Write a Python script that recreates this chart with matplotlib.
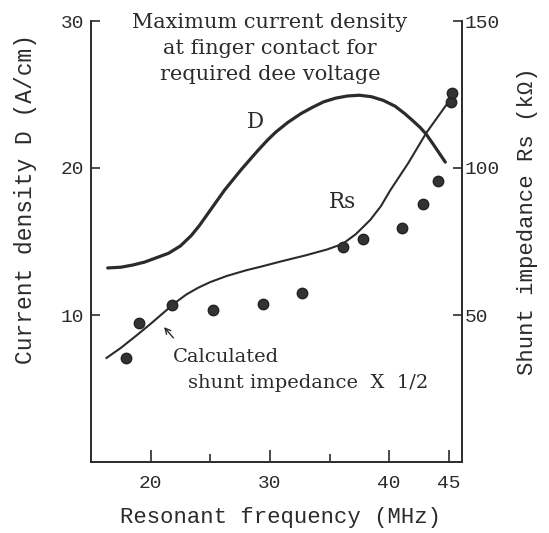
import matplotlib
matplotlib.use("Agg")
import matplotlib.pyplot as plt

# D curve (left axis, A/cm)
d_freq = [16.4, 17.5, 18.5, 19.5, 20.5, 21.5, 22.5, 23.4, 24.1, 24.8, 25.5, 26.2, 27.0, 27.6, 28.3,
          29.0, 29.8, 30.5, 31.5, 32.6, 33.5, 34.5, 35.5, 36.5, 37.5, 38.5, 39.5, 40.5, 41.3, 42.0,
          42.6, 43.1, 43.7, 44.2, 44.7]
d_val = [13.2, 13.25, 13.4, 13.6, 13.9, 14.2, 14.7, 15.4, 16.1, 16.9, 17.7, 18.5, 19.3, 19.9, 20.55,
         21.2, 21.9, 22.45, 23.1, 23.7, 24.1, 24.5, 24.75, 24.9, 24.95, 24.85, 24.6, 24.2, 23.7, 23.2,
         22.75, 22.3, 21.6, 21.0, 20.4]

# Rs curve (right axis, kOhm)
rs_freq = [16.3, 17.5, 18.8, 20.0, 21.0, 22.0, 23.0, 24.0, 25.0, 26.4, 28.0, 29.2, 31.0, 33.0, 34.8,
           36.1, 37.2, 38.4, 39.3, 40.1, 41.6, 43.1, 44.9, 45.2]
rs_val = [35.4, 38.8, 43.0, 47.0, 50.5, 54.0, 57.0, 59.3, 61.2, 63.3, 65.2, 66.4, 68.3, 70.3, 72.3,
          74.2, 77.5, 82.3, 87.0, 92.5, 101.7, 111.9, 122.1, 124.0]

# measured points (right axis)
pt_freq = [17.9, 19.0, 21.8, 25.2, 29.4, 32.7, 36.1, 37.8, 41.1, 42.8, 44.1, 45.2, 45.3]
pt_val = [35.4, 47.3, 53.4, 51.7, 53.7, 57.5, 73.1, 75.8, 79.6, 87.8, 95.6, 122.4, 125.5]

x_major = [20, 30, 40, 45]
x_major_labels = ["20", "30", "40", "45"]
x_minor = [25, 35]
left_ticks = [10, 20, 30]
right_ticks = [50, 100, 150]

ink = "#2b2b2b"
mono = "Liberation Mono"
serif = "DejaVu Serif"

fig = plt.figure(figsize=(5.49, 5.33), dpi=100)
ax = fig.add_axes([91/549, 1-462/533, (462-91)/549, (462-21)/533])
ax2 = ax.twinx()

ax.plot(d_freq, d_val, color=ink, lw=2.3, solid_capstyle="round")
ax2.plot(rs_freq, rs_val, color=ink, lw=1.5)
ax2.plot(pt_freq, pt_val, "o", color="#333333", ms=7.5, mec="#222222")

ax.set_xlim(15, 46.1)
ax.set_ylim(0, 30)
ax2.set_ylim(0, 150)

for a in (ax, ax2):
    a.spines["top"].set_visible(False)
    for s in a.spines.values():
        s.set_color(ink)
        s.set_linewidth(1.2)

ax.set_xticks(x_major)
ax.set_xticklabels(x_major_labels)
ax.set_xticks(x_minor, minor=True)
ax.set_yticks(left_ticks)
ax2.set_yticks(right_ticks)
ax2.set_yticks([], minor=True)
ax.set_yticks([], minor=True)

ax.tick_params(axis="x", which="major", direction="in", length=9, width=1.2, pad=9, colors=ink,
               labelsize=14, labelfontfamily=mono)
ax.tick_params(axis="x", which="minor", direction="in", length=6, width=1.2, colors=ink)
ax.tick_params(axis="y", direction="in", length=6.5, width=1.2, pad=5, colors=ink,
               labelsize=14, labelfontfamily=mono)
ax2.tick_params(axis="y", direction="in", length=6.5, width=1.2, pad=2, colors=ink,
                labelsize=14, labelfontfamily=mono)

# axis labels
fig.text(26/549, 1-199/533, "Current density D (A/cm)", rotation=90, ha="center", va="center",
         fontsize=16.5, family=mono, color=ink)
fig.text(528/549, 1-221/533, "Shunt impedance Rs (k\u03a9)", rotation=90, ha="center", va="center",
         fontsize=16, family=mono, color=ink)
fig.text(280/549, 1-518/533, "Resonant frequency (MHz)", ha="center", va="center",
         fontsize=16, family=mono, color=ink)

# annotations
title_lines = ["Maximum current density", "at finger contact for", "required dee voltage"]
title_y = [29.93, 28.16, 26.33]
for t, yy in zip(title_lines, title_y):
    ax.text(30.0, yy, t, ha="center", va="center", fontsize=15, family=serif, color=ink)

ax.text(28.8, 23.1, "D", ha="center", va="center", fontsize=15.5, family=serif, color=ink)
ax.text(36.1, 17.7, "Rs", ha="center", va="center", fontsize=15.5, family=serif, color=ink)
ax.text(21.9, 7.14, "Calculated", ha="left", va="center", fontsize=14, family=serif, color=ink)
ax.text(23.15, 5.37, "shunt impedance  X  1/2", ha="left", va="center", fontsize=14, family=serif, color=ink)
ax.annotate("", xy=(20.97, 9.32), xytext=(22.06, 8.3),
            arrowprops=dict(arrowstyle="->", color=ink, lw=1.0))

fig.savefig("out.png", dpi=100, facecolor="white")
